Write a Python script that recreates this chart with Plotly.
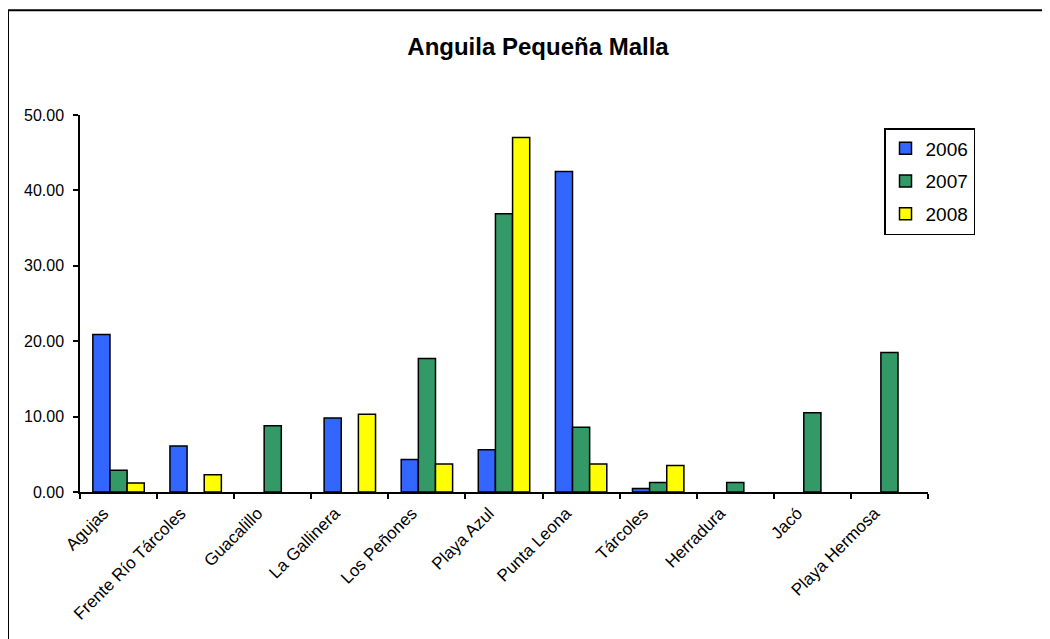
import plotly.graph_objects as go

categories = ["Agujas", "Frente Río Tárcoles", "Guacalillo", "La Gallinera", "Los Peñones",
              "Playa Azul", "Punta Leona", "Tárcoles", "Herradura", "Jacó", "Playa Hermosa"]
v2006 = [20.9, 6.1, None, 9.8, 4.3, 5.6, 42.5, 0.45, None, None, None]
v2007 = [2.9, None, 8.8, None, 17.7, 36.9, 8.6, 1.25, 1.25, 10.5, 18.5]
v2008 = [1.2, 2.3, None, 10.3, 3.7, 47.0, 3.7, 3.5, None, None, None]
series_names = ["2006", "2007", "2008"]
colors = ["#3366FF", "#339966", "#FFFF00"]
y_ticks = [0, 10, 20, 30, 40, 50]

FONT = "Arial, 'Liberation Sans', sans-serif"

fig = go.Figure()
for name, vals, col in zip(series_names, [v2006, v2007, v2008], colors):
    fig.add_trace(go.Bar(
        x=categories, y=vals, name=name, legendgroup=name,
        marker=dict(color=col, line=dict(color="#000000", width=1.5)),
    ))

# page is offset by the 8px body margin
OFF = 8
W, H = 1050 - OFF, 639 - OFF
L, T = 80 - OFF, 115 - OFF
pw, ph = 848, 377
R, B = W - L - pw, H - T - ph

def px_x(p):
    return (p - OFF - L) / pw

def px_y(p):
    return (T + ph - (p - OFF)) / ph

fig.update_layout(
    width=W, height=H,
    margin=dict(l=L, r=R, t=T, b=B, autoexpand=False),
    paper_bgcolor="white", plot_bgcolor="white",
    barmode="group", bargap=0.333, bargroupgap=0,
    font=dict(family=FONT, color="#000000"),
    title=dict(text="<b>Anguila Pequeña Malla</b>", font=dict(size=24, family=FONT),
               x=px_x(538), xref="paper", xanchor="center",
               y=1 - (47 - OFF) / H, yref="container", yanchor="middle"),
    legend=dict(x=px_x(884), y=px_y(128), xanchor="left", yanchor="top",
                bordercolor="#000000", borderwidth=1.5, bgcolor="white",
                font=dict(size=19, family=FONT), tracegroupgap=5,
                traceorder="grouped"),
    xaxis=dict(
        type="category", showline=True, linecolor="#000000", linewidth=1.5,
        ticks="outside", ticklen=5, tickwidth=1.5, tickcolor="#000000",
        tickson="boundaries", tickangle=-45, tickfont=dict(size=17, family=FONT),
        ticklabelshift=-15, ticklabelstandoff=3,
        showgrid=False, zeroline=False,
    ),
    yaxis=dict(
        range=[0, 50], tickvals=y_ticks, tickformat=".2f",
        showline=True, linecolor="#000000", linewidth=1.5,
        ticks="outside", ticklen=5, tickwidth=1.5, tickcolor="#000000",
        tickfont=dict(size=16, family=FONT), showgrid=False, zeroline=False,
        ticklabelstandoff=6,
    ),
    shapes=[
        dict(type="line", xref="paper", yref="paper", x0=px_x(8), x1=px_x(1070),
             y0=px_y(10.3), y1=px_y(10.3), line=dict(color="#000000", width=2)),
        dict(type="line", xref="paper", yref="paper", x0=px_x(8), x1=px_x(8),
             y0=px_y(10.3), y1=px_y(660), line=dict(color="#000000", width=2)),
    ],
)

fig.write_html("out.html")
